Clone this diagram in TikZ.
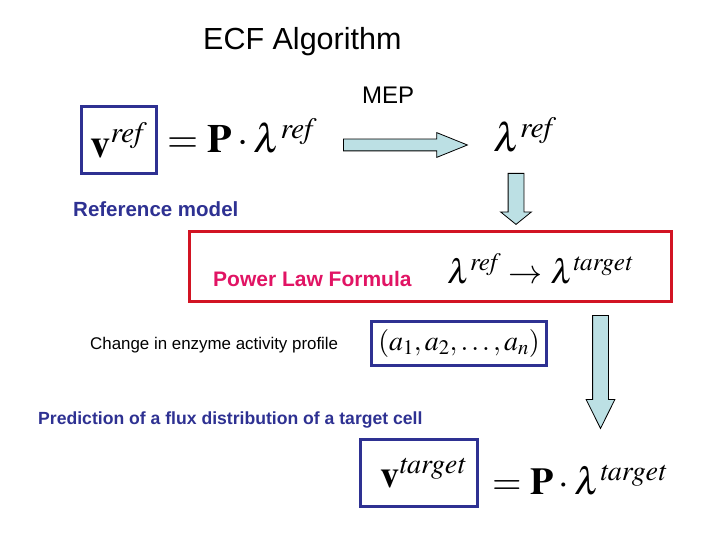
\documentclass[tikz,border=0pt]{standalone}
\usepackage{mathptmx}
\usepackage[no-math]{fontspec}
\setsansfont{Liberation Sans}
\usepackage{xcolor}
\usepackage{tikz}
\usetikzlibrary{shapes.arrows, positioning}

\definecolor{ecfnavy}{RGB}{46,49,146}
\definecolor{ecfred}{RGB}{210,20,35}
\definecolor{ecfpink}{RGB}{225,20,100}
\definecolor{ecfcyan}{RGB}{188,224,228}

\begin{document}
\begin{tikzpicture}[
    x=1pt, y=-1pt,
    txt/.style={anchor=base west, inner sep=0pt, font=\sffamily},
    navytxt/.style={txt, text=ecfnavy},
    mathtxt/.style={anchor=base west, inner sep=0pt},
    navybox/.style={draw=ecfnavy, line width=3pt, inner sep=0pt},
    redbox/.style={draw=ecfred, line width=3pt, inner sep=0pt},
    blockarr/.style={single arrow, draw=black, fill=ecfcyan, line width=0.8pt, anchor=tail,
                     inner xsep=0pt, inner ysep=5.5pt, single arrow head extend=6.5pt},
    downarr/.style={blockarr, inner sep=7.5pt, shape border rotate=270},
]
\useasboundingbox (0,0) rectangle (720,540);

% === Title ===
\node[txt, font=\sffamily\fontsize{30.5}{32}\selectfont] (title) at (203,50) {ECF Algorithm};

% === Reference model ===
\node[navybox, minimum width=75pt, minimum height=67pt] (vref) at (119,140)
    {\fontsize{40}{42}\selectfont\raisebox{-8pt}{$\mathbf{v}^{\mathit{ref}}$}};
\node[mathtxt, font=\fontsize{40}{42}\selectfont] (eqref) at (167,153) {$=\mathbf{P}\cdot\lambda^{\mathit{ref}}$};
\node[navytxt, font=\sffamily\bfseries\fontsize{20.5}{22}\selectfont] (refmodel) at (73,217) {Reference model};

% === MEP step ===
\node[blockarr, minimum height=124pt, single arrow tip angle=44] (mep) at (343,145) {};
\node[txt, font=\sffamily\fontsize{24}{26}\selectfont] (meplabel) at (362,104) {MEP};
\node[mathtxt, font=\fontsize{40}{42}\selectfont] (lamref) at (493,152) {$\lambda^{\mathit{ref}}$};

\node[downarr, minimum height=51pt, single arrow head extend=7.5pt,
      single arrow tip angle=102] (down1) at (516,173) {};

% === Power law formula ===
\node[redbox, minimum width=482pt, minimum height=70pt] (plbox) at (430.5,266.5) {};
\node[txt, font=\sffamily\bfseries\fontsize{21}{23}\selectfont, text=ecfpink] (pllabel) at (213,286) {Power Law Formula};
\node[mathtxt, font=\fontsize{34}{36}\selectfont] (plmath) at (447,283) {$\lambda^{\mathit{ref}}\rightarrow\lambda^{\mathit{target}}$};

% === Enzyme activity ===
\node[txt, font=\sffamily\fontsize{16.9}{18}\selectfont] (enzlabel) at (90,349) {Change in enzyme activity profile};
\node[navybox, minimum width=175pt, minimum height=44pt] (abox) at (459,343.5)
    {\fontsize{28}{30}\selectfont$(a_1,a_2,\ldots,a_n)$};

\node[downarr, minimum height=113pt, single arrow head extend=6.5pt,
      single arrow tip angle=53] (down2) at (600.5,315) {};

% === Target cell ===
\node[navytxt, font=\sffamily\bfseries\fontsize{17.6}{19}\selectfont] (predlabel) at (38,424) {Prediction of a flux distribution of a target cell};
\node[navybox, minimum width=117pt, minimum height=67pt] (vtarget) at (419,473)
    {\fontsize{38}{40}\selectfont\raisebox{-8pt}{$\;\mathbf{v}^{\mathit{target}}$}};
\node[mathtxt, font=\fontsize{38}{40}\selectfont] (eqtarget) at (492,494) {$=\mathbf{P}\cdot\lambda^{\mathit{target}}$};

\end{tikzpicture}
\end{document}
